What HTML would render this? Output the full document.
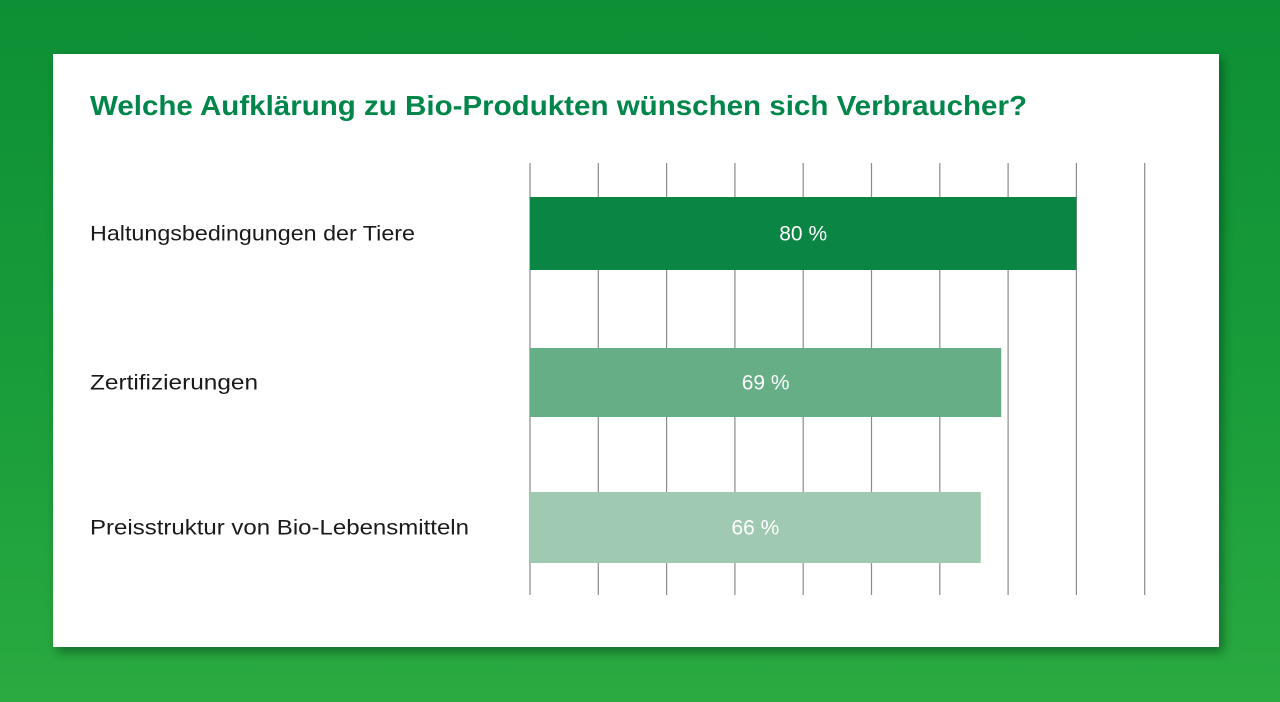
<!DOCTYPE html>
<html><head><meta charset="utf-8"><style>
html,body{margin:0;padding:0;width:1280px;height:702px;overflow:hidden}
body{background:linear-gradient(180deg,#0d8f35 0%,#179c3a 50%,#2aaa40 100%)}
svg{position:absolute;left:0;top:0}
</style></head><body>
<svg width="1280" height="702">
<defs><filter id="sh" x="-5%" y="-5%" width="115%" height="120%"><feDropShadow dx="4" dy="5" stdDeviation="5" flood-color="#003010" flood-opacity="0.5"/></filter></defs>
<rect x="53" y="54" width="1166" height="593" fill="#ffffff" filter="url(#sh)"/>
<text x="90" y="115" fill="#00864a" font-family="Liberation Sans, sans-serif" font-weight="bold" font-size="28" textLength="937" lengthAdjust="spacingAndGlyphs">Welche Aufklärung zu Bio-Produkten wünschen sich Verbraucher?</text>
<g id="grid"></g>
<g id="bars"></g>
</svg>
<script>
const categories = ["Haltungsbedingungen der Tiere","Zertifizierungen","Preisstruktur von Bio-Lebensmitteln"];
const values = [80, 69, 66];
const valueLabels = ["80 %","69 %","66 %"];
const gridTicks = [0,10,20,30,40,50,60,70,80,90];
const colors = ["#0b8544","#66ae86","#9fc9b0"];
const barTops = [197,348,492], barHeights = [73,69,71];
const labelWidths = [325,168,379];
const NS = "http://www.w3.org/2000/svg";
const x = v => 530 + v * 6.83;
const grid = document.getElementById('grid');
gridTicks.forEach(t => {
  const l = document.createElementNS(NS,'line');
  l.setAttribute('x1', x(t)); l.setAttribute('x2', x(t));
  l.setAttribute('y1', 163); l.setAttribute('y2', 595);
  l.setAttribute('stroke', '#8a8a8a'); l.setAttribute('stroke-width', '1.2');
  
  
  grid.appendChild(l);
});
const bars = document.getElementById('bars');
categories.forEach((c, i) => {
  const r = document.createElementNS(NS,'rect');
  r.setAttribute('x', x(0)); r.setAttribute('y', barTops[i]);
  r.setAttribute('width', x(values[i]) - x(0)); r.setAttribute('height', barHeights[i]);
  r.setAttribute('fill', colors[i]);
  
  
  bars.appendChild(r);
  const cy = barTops[i] + barHeights[i] / 2 + 7;
  const t = document.createElementNS(NS,'text');
  t.setAttribute('x', (x(0) + x(values[i])) / 2); t.setAttribute('y', cy);
  t.setAttribute('text-anchor', 'middle'); t.setAttribute('fill', '#fff');
  t.setAttribute('font-family', 'Liberation Sans, sans-serif'); t.setAttribute('font-size', '21');
  t.textContent = valueLabels[i];
  
  
  bars.appendChild(t);
  const L = document.createElementNS(NS,'text');
  L.setAttribute('x', 90); L.setAttribute('y', cy);
  L.setAttribute('fill', '#1a1a1a');
  L.setAttribute('font-family', 'Liberation Sans, sans-serif'); L.setAttribute('font-size', '21');
  L.setAttribute('textLength', labelWidths[i]); L.setAttribute('lengthAdjust', 'spacingAndGlyphs');
  L.textContent = c;
  
  
  bars.appendChild(L);
});
</script>
</body></html>
